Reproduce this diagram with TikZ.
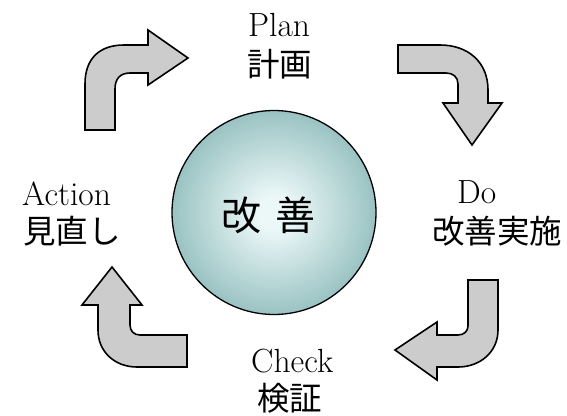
\documentclass[tikz,border=0pt]{standalone}
\usepackage{fontspec}
\newfontfamily\cjk{Noto Sans CJK JP}
\definecolor{arrowgray}{RGB}{204,204,204}
\definecolor{ballin}{RGB}{236,248,248}
\definecolor{ballmid}{RGB}{150,192,192}
\definecolor{ballout}{RGB}{68,128,128}
\pgfdeclareradialshading{ball}{\pgfpoint{0bp}{0bp}}{color(0bp)=(ballin); color(4bp)=(ballin); color(26bp)=(ballmid); color(50bp)=(ballout); color(100bp)=(ballout)}
\tikzset{
  parrow/.style={draw=black, line width=1.6pt, fill=arrowgray, line join=miter},
  enlbl/.style={font=\fontsize{33.5}{36}\selectfont, inner sep=0pt, anchor=base west},
  jplbl/.style={font=\cjk\fontsize{32.5}{36}\selectfont, inner sep=0pt, anchor=base west},
}
\begin{document}
\begin{tikzpicture}[x=1pt,y=-1pt]
\useasboundingbox (0,0) rectangle (567,415);
% centre ball
\node (core) [circle, draw=black, line width=1.3pt, shading=ball, minimum size=204pt, inner sep=0pt] at (274,212.5) {};
\node (kaizen) [font=\cjk\fontsize{40}{44}\selectfont, inner sep=0pt] at (268,215) {改\hspace{14pt}善};
% arrows
\path[parrow] (85,130) -- (85,84) .. controls (85,58) and (100,45) .. (124,45) -- (148,45) -- (148,30) -- (188,58) -- (148,85) -- (148,73) -- (130,73) .. controls (120,73) and (115,79) .. (115,89) -- (115,130) -- cycle;
\path[parrow] (398,45) -- (440,45) .. controls (468,45) and (488,62) .. (488,90) -- (488,103) -- (502,103) -- (472,145) -- (443,103) -- (458,103) -- (458,84) .. controls (458,77) and (453,73) .. (446,73) -- (398,73) -- cycle;
\path[parrow] (468,280) -- (498,280) -- (498,330) .. controls (498,352) and (480,367) .. (458,367) -- (437,367) -- (437,380) -- (395,350) -- (437,322) -- (437,335) -- (458,335) .. controls (464,335) and (468,331) .. (468,326) -- cycle;
\path[parrow] (187,335) -- (187,367) -- (137,367) .. controls (115,367) and (98,352) .. (98,330) -- (98,305) -- (82,305) -- (112,267) -- (142,305) -- (130,305) -- (130,325) .. controls (130,331) and (134,335) .. (140,335) -- cycle;
% labels
\node (plan) [enlbl] at (248,36) {Plan};
\node (planj) [jplbl] at (247,76) {計画};
\node (do) [enlbl] at (457,203) {Do};
\node (doj) [jplbl] at (432,243) {改善実施};
\node (check) [enlbl] at (251,372) {Check};
\node (checkj) [jplbl] at (257,410) {検証};
\node (action) [enlbl] at (22,205) {Action};
\node (actionj) [jplbl] at (23,243) {見直し};
\end{tikzpicture}
\end{document}
